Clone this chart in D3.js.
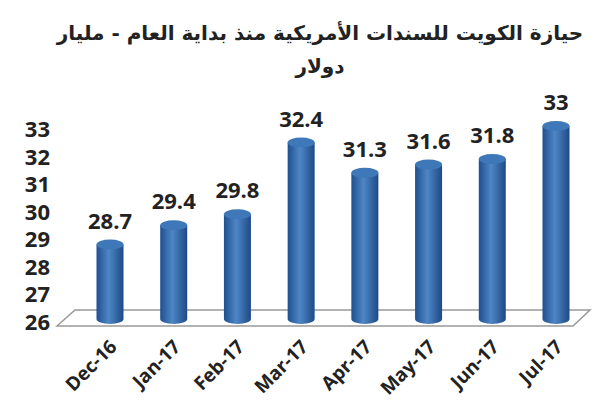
<!DOCTYPE html>
<html><head><meta charset="utf-8">
<script src="https://cdn.jsdelivr.net/npm/d3@7"></script>
<style>body{margin:0;background:#fff}</style></head>
<body><svg id="c" width="614" height="420"></svg>
<script>
var months = ['Dec-16','Jan-17','Feb-17','Mar-17','Apr-17','May-17','Jun-17','Jul-17'];
var holdings = [28.7, 29.4, 29.8, 32.4, 31.3, 31.6, 31.8, 33];
var yTicks = [26, 27, 28, 29, 30, 31, 32, 33];
var titleLines = ['حيازة الكويت للسندات الأمريكية منذ بداية العام - مليار', 'دولار'];

var svg = d3.select('#c');
var font = '"Open Sans", sans-serif';

// gradient for cylinders
var defs = svg.append('defs');
var g = defs.append('linearGradient').attr('id', 'cyl');
g.append('stop').attr('offset', '0%').attr('stop-color', '#1f4f8f');
g.append('stop').attr('offset', '45%').attr('stop-color', '#4f86c6');
g.append('stop').attr('offset', '100%').attr('stop-color', '#1d4a86');

var x = d3.scalePoint().domain(months).range([110, 556]);
var y = d3.scaleLinear().domain([26, 33]).range([319, 126]);

// title
svg.selectAll('.title').data(titleLines).join('text')
  .attr('x', 320).attr('y', (d, i) => 40 + i * 33)
  .attr('text-anchor', 'middle').attr('direction', 'rtl')
  .style('font', 'bold 20px "DejaVu Sans", sans-serif').attr('fill', '#222')
  .text(d => d);

// floor
svg.append('path')
  .attr('d', 'M57,326 L75,310 L590,310 L573,326 Z')
  .attr('fill', '#fff').attr('stroke', '#999').attr('stroke-width', 1.5);

// y labels
svg.selectAll('.yl').data(yTicks).join('text')
  .attr('x', 50).attr('y', d => y(d) + 11)
  .attr('text-anchor', 'end')
  .style('font', 'bold 22px ' + font).attr('fill', '#222')
  .text(d => d);

var w = 27, ry = 5;
var bars = svg.selectAll('.bar').data(holdings).join('g');
bars.append('path')
  .attr('d', (d, i) => {
    var cx = x(months[i]), t = y(d), b = y(26);
    return `M${cx - w/2},${t} L${cx - w/2},${b} A${w/2},${ry} 0 0 0 ${cx + w/2},${b} L${cx + w/2},${t} Z`;
  })
  .attr('fill', 'url(#cyl)');
bars.append('ellipse')
  .attr('cx', (d, i) => x(months[i])).attr('cy', d => y(d))
  .attr('rx', w/2).attr('ry', ry).attr('fill', '#3f78b9');

// value labels
svg.selectAll('.vl').data(holdings).join('text')
  .attr('x', (d, i) => x(months[i])).attr('y', d => y(d) - 16)
  .attr('text-anchor', 'middle')
  .style('font', 'bold 22px ' + font).attr('fill', '#222')
  .text(d => d);

// x labels
svg.selectAll('.xl').data(months).join('text')
  .attr('transform', d => `translate(${x(d) + 8},${348}) rotate(-45)`)
  .attr('text-anchor', 'end')
  .style('font', 'bold 19px ' + font).attr('fill', '#222')
  .text(d => d);
</script></body></html>
